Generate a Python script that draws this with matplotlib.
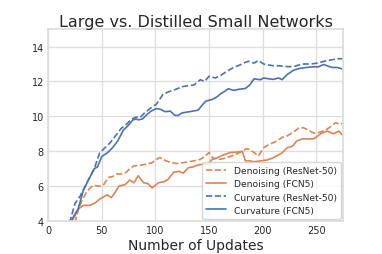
import matplotlib
matplotlib.use("Agg")
import matplotlib.pyplot as plt
import seaborn as sns

# Curvature, ResNet-50 (dashed blue)
curv_res_x = [20, 25, 30, 37, 43, 48, 53, 58, 63, 68, 73, 78, 82, 86, 90, 95, 101, 107, 112, 117,
              125, 130, 136, 142, 146, 150, 156, 161, 167, 173, 179, 184, 187, 192, 196, 201,
              205, 210, 216, 223, 229, 234, 238, 245, 251, 257, 261, 266, 270, 275]
curv_res_y = [3.9, 5.0, 5.45, 6.3, 7.0, 7.9, 8.2, 8.5, 8.9, 9.3, 9.55, 9.85, 9.95, 9.95, 10.2, 10.45, 10.7, 11.25, 11.4, 11.5,
              11.7, 11.75, 11.8, 12.1, 12.0, 12.3, 12.2, 12.35, 12.6, 12.8, 12.95, 13.1, 13.16, 13.05, 13.2, 13.0,
              12.95, 12.9, 12.9, 12.85, 12.85, 12.95, 13.0, 13.0, 13.05, 13.15, 13.2, 13.26, 13.3, 13.3]

# Curvature, FCN5 (solid blue)
curv_fcn_x = [21, 24, 28, 33, 38, 43, 46, 50, 55, 60, 65, 70, 75, 79, 82, 84, 88, 92, 96, 101,
              105, 109, 114, 118, 121, 125, 130, 135, 140, 143, 147, 153, 157, 161, 165, 168, 173,
              178, 184, 188, 192, 198, 201, 206, 210, 215, 218, 223, 229, 235, 241, 247, 252, 257, 260, 265, 270, 275]
curv_fcn_y = [3.9, 4.3, 4.7, 5.8, 6.4, 7.0, 7.1, 7.7, 7.9, 8.2, 8.6, 9.2, 9.5, 9.8, 9.85, 9.8, 9.85, 10.1, 10.3, 10.45,
              10.4, 10.27, 10.3, 10.06, 10.05, 10.2, 10.25, 10.3, 10.36, 10.6, 10.87, 10.97, 11.1, 11.3, 11.45, 11.58, 11.49,
              11.55, 11.6, 11.8, 12.15, 12.1, 12.2, 12.15, 12.12, 12.2, 12.1, 12.4, 12.65, 12.75, 12.8, 12.84, 12.84, 12.97, 12.9, 12.8, 12.8, 12.7]

# Denoising, ResNet-50 (dashed orange)
den_res_x = [25, 28, 31, 36, 42, 48, 52, 56, 60, 64, 68, 73, 76, 80, 86, 92, 97, 100, 104, 110,
             115, 120, 126, 131, 136, 142, 146, 150, 154, 157, 160, 165, 171, 176, 181, 185, 188,
             192, 196, 201, 205, 210, 214, 218, 222, 226, 230, 234, 238, 243, 248, 254, 260, 264, 268, 272, 275]
den_res_y = [3.9, 4.6, 5.1, 5.7, 6.05, 6.0, 6.1, 6.5, 6.55, 6.7, 6.7, 6.8, 7.0, 7.16, 7.2, 7.26, 7.35, 7.5, 7.64, 7.45,
             7.35, 7.3, 7.35, 7.4, 7.45, 7.54, 7.7, 7.93, 7.58, 7.6, 7.54, 7.6, 7.73, 7.85, 8.0, 8.15, 8.1,
             7.93, 7.73, 8.2, 8.35, 8.5, 8.6, 8.8, 8.85, 9.0, 9.15, 9.35, 9.35, 9.2, 9.03, 9.1, 9.26, 9.45, 9.64, 9.55, 9.6]

# Denoising, FCN5 (solid orange)
den_fcn_x = [22, 25, 28, 33, 39, 44, 48, 52, 55, 59, 62, 66, 72, 76, 80, 84, 89, 93, 97, 103,
             108, 112, 117, 122, 126, 131, 135, 139, 143, 147, 150, 153, 157, 161, 165, 170, 175,
             181, 184, 188, 192, 198, 204, 209, 213, 218, 223, 228, 232, 238, 243, 248, 254, 260, 266, 271, 275]
den_fcn_y = [4.0, 4.3, 4.7, 4.9, 4.9, 5.05, 5.25, 5.4, 5.5, 5.35, 5.6, 6.0, 6.1, 6.35, 6.2, 6.6, 6.2, 6.15, 5.9, 6.2,
             6.25, 6.4, 6.8, 6.85, 6.75, 7.07, 7.1, 7.2, 7.25, 7.26, 7.3, 7.54, 7.6, 7.73, 7.83, 7.93, 7.95,
             8.0, 7.45, 7.45, 7.4, 7.45, 7.5, 7.6, 7.73, 7.9, 8.2, 8.3, 8.6, 8.72, 8.7, 8.72, 9.0, 9.16, 9.0, 9.16, 8.9]

sns.set_theme(style="whitegrid")
blue = "#4C72B0"
orange = "#DD8452"

fig = plt.figure(figsize=(3.82, 2.55), dpi=100)
ax = fig.add_axes([0.126, 0.129, 0.772, 0.753])

ax.plot(den_res_x, den_res_y, "--", color=orange, lw=1.2, label="Denoising (ResNet-50)")
ax.plot(den_fcn_x, den_fcn_y, "-", color=orange, lw=1.2, label="Denoising (FCN5)")
ax.plot(curv_res_x, curv_res_y, "--", color=blue, lw=1.2, label="Curvature (ResNet-50)")
ax.plot(curv_fcn_x, curv_fcn_y, "-", color=blue, lw=1.2, label="Curvature (FCN5)")

ax.set_xlim(0, 275)
ax.set_ylim(4, 15)
ax.set_xticks([0, 50, 100, 150, 200, 250])
ax.set_yticks([4, 6, 8, 10, 12, 14])
ax.tick_params(labelsize=7, pad=3, length=0)
ax.set_title("Large vs. Distilled Small Networks", fontsize=11.5, pad=2.5)
ax.set_xlabel("Number of Updates", fontsize=10, labelpad=2)
ax.grid(True, color="#dddddd", lw=0.9)
for s in ax.spines.values():
    s.set_color("#dddddd")

ax.legend(loc="lower right", fontsize=6.6, handlelength=2.2, borderaxespad=0.2,
          labelspacing=0.45, borderpad=0.5)

fig.savefig("out.png", dpi=100)
